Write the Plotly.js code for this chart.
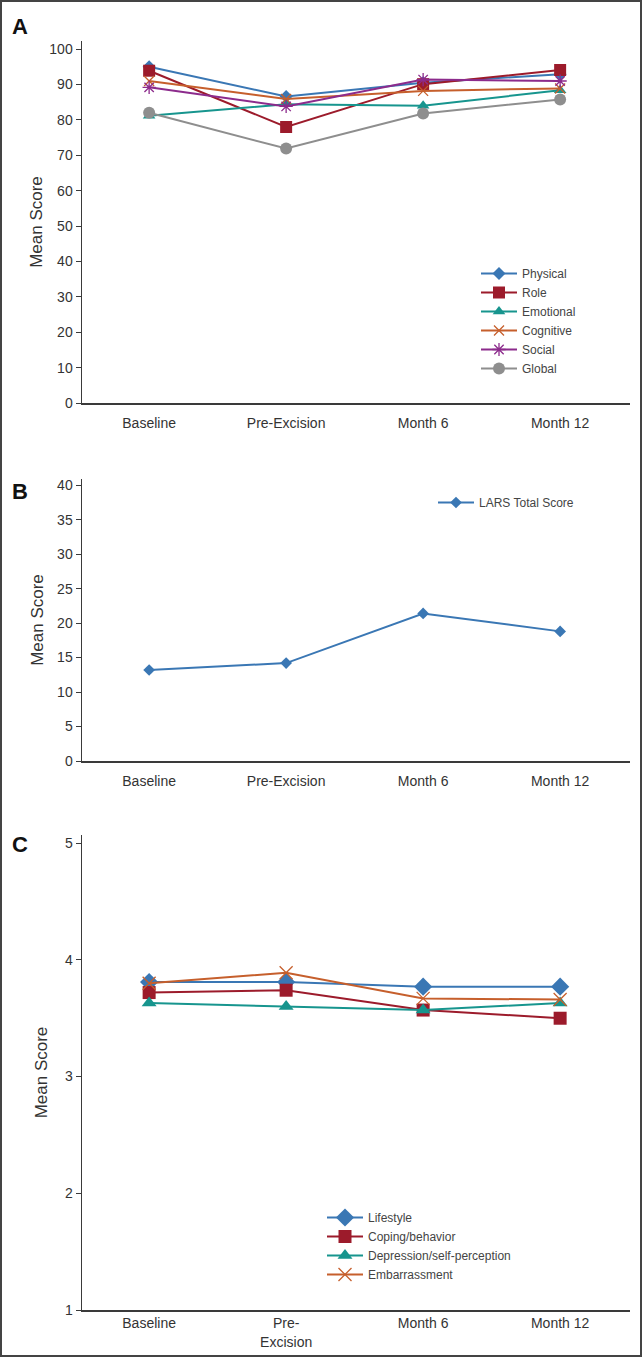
<!DOCTYPE html>
<html>
<head>
<meta charset="utf-8">
<script src="https://cdn.plot.ly/plotly-3.0.1.min.js"></script>
<style>
html,body{margin:0;padding:0;background:#fff;}
#chart{width:642px;height:1357px;}
</style>
</head>
<body>
<div id="chart"></div>
<script>
// ---- Data ----
const timepointsAB = ["Baseline", "Pre-Excision", "Month 6", "Month 12"];
const timepointsC = ["Baseline", "Pre-<br>Excision", "Month 6", "Month 12"];

// Panel A: QLQ-C30 functional scales
const physical = [95.0, 86.6, 90.5, 92.9];
const role = [93.9, 78.0, 90.1, 94.1];
const emotional = [81.2, 84.4, 84.0, 88.4];
const cognitive = [91.0, 85.9, 88.2, 88.9];
const social = [89.2, 83.8, 91.4, 91.0];
const globalScore = [82.0, 71.9, 81.8, 85.8];

// Panel B: LARS total score
const larsTotal = [13.2, 14.2, 21.4, 18.8];

// Panel C: FIQL scales
const lifestyle = [3.81, 3.81, 3.77, 3.77];
const coping = [3.72, 3.74, 3.57, 3.50];
const depression = [3.63, 3.60, 3.57, 3.63];
const embarrassment = [3.80, 3.89, 3.67, 3.66];

// ---- Styles ----
const C_BLUE = "#3a77b4", C_RED = "#9c1b2b", C_TEAL = "#17958e",
      C_ORANGE = "#c65f2c", C_PURPLE = "#8c2b8c", C_GRAY = "#8e8e8e";
const NARROW = "'Liberation Sans Narrow', 'Arial Narrow', 'Liberation Sans', Arial, sans-serif";

function tr(x, y, name, color, symbol, size, xa, ya, legend, open) {
  const m = {symbol: symbol, size: size, color: color};
  if (open) m.line = {color: color, width: 1.3};
  return {x: x, y: y, name: name, type: "scatter", mode: "lines+markers",
    line: {color: color, width: 2}, marker: m, xaxis: xa, yaxis: ya, legend: legend};
}

const data = [
  tr(timepointsAB, physical, "Physical", C_BLUE, "diamond", 10, "x", "y", "legend"),
  tr(timepointsAB, role, "Role", C_RED, "square", 12, "x", "y", "legend"),
  tr(timepointsAB, emotional, "Emotional", C_TEAL, "triangle-up", 11, "x", "y", "legend"),
  tr(timepointsAB, cognitive, "Cognitive", C_ORANGE, "x-thin-open", 10, "x", "y", "legend", true),
  tr(timepointsAB, social, "Social", C_PURPLE, "asterisk-open", 11, "x", "y", "legend", true),
  tr(timepointsAB, globalScore, "Global", C_GRAY, "circle", 12, "x", "y", "legend"),
  tr(timepointsAB, larsTotal, "LARS Total Score", C_BLUE, "diamond", 9, "x2", "y2", "legend2"),
  tr(timepointsC, lifestyle, "Lifestyle", C_BLUE, "diamond", 14, "x3", "y3", "legend3"),
  tr(timepointsC, coping, "Coping/behavior", C_RED, "square", 13, "x3", "y3", "legend3"),
  tr(timepointsC, depression, "Depression/self-perception", C_TEAL, "triangle-up", 13, "x3", "y3", "legend3"),
  tr(timepointsC, embarrassment, "Embarrassment", C_ORANGE, "x-thin-open", 13, "x3", "y3", "legend3", true)
];

const H = 1357, W = 642;
const py = p => 1 - p / H;
const px = p => p / W;
const xdom = [px(82), px(630)];

function xax(anchor, standoff) {
  return {domain: xdom, anchor: anchor, type: "category", range: [-0.49, 3.51],
    showline: true, linecolor: "#3a3a3a", linewidth: 1.5, ticks: "", showgrid: false,
    zeroline: false, ticklabelstandoff: standoff, fixedrange: true,
    tickfont: {family: NARROW, size: 14, color: "#333"}};
}
function yax(anchor, dom, range, dtick, standoff) {
  return {domain: dom, anchor: anchor, range: range, dtick: dtick, tick0: 0,
    showline: true, linecolor: "#3a3a3a", linewidth: 1.5, ticks: "outside", ticklen: 5,
    tickcolor: "#3a3a3a", tickwidth: 1, showgrid: false, zeroline: false,
    tickfont: {family: NARROW, size: 14, color: "#333"},
    title: {text: "Mean Score", standoff: standoff, font: {family: "'Liberation Sans', Arial, sans-serif", size: 17, color: "#333"}}};
}

const legendBase = {xanchor: "left", yanchor: "top", bgcolor: "rgba(0,0,0,0)",
  font: {family: NARROW, size: 12, color: "#444"}, itemwidth: 36, tracegroupgap: 0};

const layout = {
  width: W, height: H, margin: {l: 0, r: 0, t: 0, b: 0},
  paper_bgcolor: "#fff", plot_bgcolor: "#fff", showlegend: true,
  xaxis: xax("y", 7), xaxis2: xax("y2", 7), xaxis3: xax("y3", 0),
  yaxis: yax("x", [py(403), py(41)], [0, 102.3], 10, 2),
  yaxis2: yax("x2", [py(761), py(479)], [0, 40.9], 5, 9),
  yaxis3: Object.assign(yax("x3", [py(1310), py(835)], [1, 5.07], 1, 13), {tick0: 1}),
  legend: Object.assign({}, legendBase, {x: px(476), y: py(259)}),
  legend2: Object.assign({}, legendBase, {x: px(433), y: py(488)}),
  legend3: Object.assign({}, legendBase, {x: px(322), y: py(1203)}),
  annotations: [
    {text: "<b>A</b>", x: px(10), y: py(12), xref: "paper", yref: "paper", xanchor: "left", yanchor: "top", showarrow: false, font: {family: "'Liberation Sans', Arial, sans-serif", size: 22, color: "#111"}},
    {text: "<b>B</b>", x: px(10), y: py(477), xref: "paper", yref: "paper", xanchor: "left", yanchor: "top", showarrow: false, font: {family: "'Liberation Sans', Arial, sans-serif", size: 22, color: "#111"}},
    {text: "<b>C</b>", x: px(10), y: py(830), xref: "paper", yref: "paper", xanchor: "left", yanchor: "top", showarrow: false, font: {family: "'Liberation Sans', Arial, sans-serif", size: 22, color: "#111"}}
  ],
  shapes: [
    {type: "rect", xref: "paper", yref: "paper", x0: px(1), x1: px(641), y0: py(1356), y1: py(1), line: {color: "#444", width: 2}, fillcolor: "rgba(0,0,0,0)"}
  ]
};

Plotly.newPlot("chart", data, layout, {displayModeBar: false, staticPlot: true});
</script>
</body>
</html>
